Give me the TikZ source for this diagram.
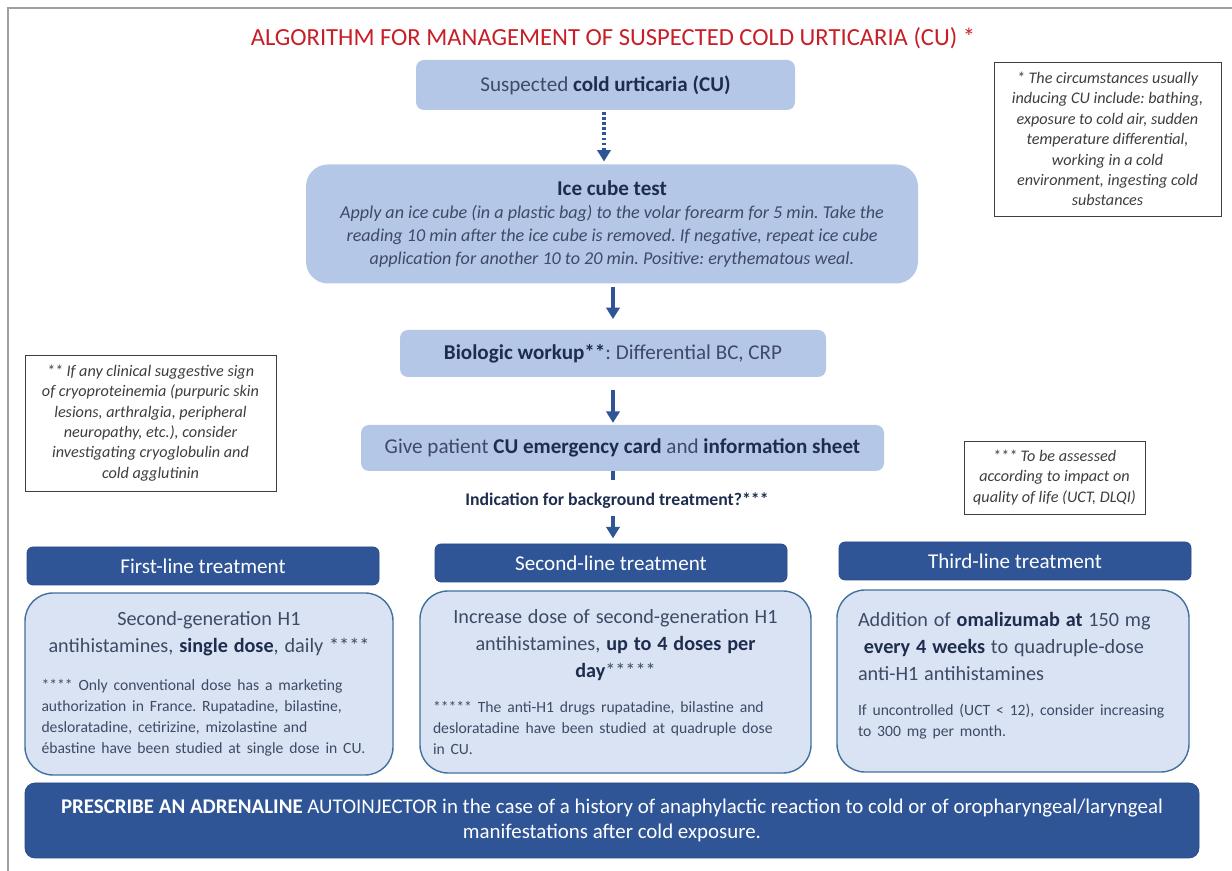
\documentclass[tikz,border=0pt]{standalone}
\usepackage{fontspec}
\setmainfont{Carlito}
\usetikzlibrary{positioning,arrows.meta}

\definecolor{titlered}{RGB}{200,30,40}
\definecolor{lightbox}{RGB}{180,199,231}
\definecolor{palebox}{RGB}{218,227,243}
\definecolor{paleedge}{RGB}{65,113,156}
\definecolor{darkbox}{RGB}{47,85,151}
\definecolor{darkedge}{RGB}{40,74,135}
\definecolor{txt}{RGB}{62,74,102}
\definecolor{txtb}{RGB}{30,44,78}
\definecolor{notetxt}{RGB}{62,62,62}

\newcommand{\bfnavy}[1]{\textbf{\color{txtb}#1}}
\newcommand{\bigtxt}{\fontsize{11.5}{15.3}\selectfont}
\newcommand{\smalltxt}{\fontsize{8.9}{11.9}\selectfont}
\frenchspacing

\begin{document}
\begin{tikzpicture}[
  x=1cm, y=1cm,
  frame/.style={draw=gray!75, line width=1pt},
  lightstep/.style={fill=lightbox, rounded corners=0.16cm, text=txt, align=center, inner sep=2pt, font=\fontsize{12}{14}\selectfont},
  note/.style={draw=notetxt, line width=0.5pt, fill=white, text=notetxt, align=center, inner sep=2pt, font=\fontsize{9.2}{11.6}\selectfont\itshape},
  header/.style={draw=darkedge, fill=darkbox, rounded corners=0.12cm, text=white, minimum width=7.04cm, minimum height=0.76cm, inner sep=1pt, font=\fontsize{12}{13}\selectfont},
  content/.style={draw=paleedge, line width=0.8pt, fill=palebox, rounded corners=0.56cm, text=txt, minimum height=3.64cm, align=left, inner sep=0pt},
  arrow/.style={-{Triangle[width=7.5pt,length=6.5pt]}, draw=darkbox, line width=2.2pt},
  link/.style={draw=darkbox, line width=2.2pt}
]
\useasboundingbox (0,0) rectangle (24.64,-17.42);

% page frame
\draw[frame] (24.64,-0.16) -- (0.16,-0.16) -- (0.16,-17.42);

% Title
\node[text=titlered, font=\fontsize{14}{16}\selectfont] (title) at (12.26,-0.76) {ALGORITHM FOR MANAGEMENT OF SUSPECTED COLD URTICARIA (CU) *};

% Main column
\node[lightstep, minimum width=7.58cm, minimum height=1.0cm] (suspect) at (12.11,-1.70) {Suspected \bfnavy{cold urticaria (CU)}};
\node[lightstep, rounded corners=0.44cm, minimum width=12.24cm, minimum height=2.38cm, font=\fontsize{10.3}{13}\selectfont] (icetest) at (12.24,-4.48)
  {{\fontsize{12}{13}\selectfont\bfnavy{Ice cube test}}\\[0pt]
   \itshape Apply an ice cube (in a plastic bag) to the volar forearm for 5 min. Take the\\
   \itshape reading 10 min after the ice cube is removed. If negative, repeat ice cube\\
   \itshape application for another 10 to 20 min. Positive: erythematous weal.};
\node[lightstep, minimum width=8.52cm, minimum height=0.94cm] (workup) at (12.26,-7.07) {\bfnavy{Biologic workup**}: Differential BC, CRP};
\node[lightstep, minimum width=10.46cm, minimum height=0.92cm] (card) at (12.45,-8.96) {Give patient \bfnavy{CU emergency card} and \bfnavy{information sheet}};
\node[text=txtb, font=\fontsize{10.1}{11}\selectfont\bfseries, inner sep=1pt] (question) at (12.34,-10.02) {Indication for background treatment?***};

% Footnote boxes
\node[note, minimum width=4.54cm, minimum height=3.08cm] (noteA) at (22.15,-2.78)
  {* The circumstances usually\\inducing CU include: bathing,\\exposure to cold air, sudden\\temperature differential,\\working in a cold\\environment, ingesting cold\\substances};
\node[note, minimum width=5.02cm, minimum height=2.72cm] (noteB) at (3.01,-8.46)
  {** If any clinical suggestive sign\\of cryoproteinemia (purpuric skin\\lesions, arthralgia, peripheral\\neuropathy, etc.), consider\\investigating cryoglobulin and\\cold agglutinin};
\node[note, minimum width=3.62cm, minimum height=1.46cm] (noteC) at (21.09,-9.55)
  {*** To be assessed\\according to impact on\\quality of life (UCT, DLQI)};

% Treatment lines
\node[header] (first) at (4.06,-11.32) {First-line treatment};
\node[header] (second) at (12.22,-11.26) {Second-line treatment};
\node[header] (third) at (20.30,-11.22) {Third-line treatment};

\node[content, minimum width=7.36cm, text width=6.9cm] (firstbox) at (4.18,-13.68)
  {{\centering\bigtxt Second-generation H1\\antihistamines, \bfnavy{single dose}, daily ****\par}
   \vspace{10pt}
   {\raggedright\smalltxt\hspace*{0.1cm}**** Only conventional dose has a marketing\\\hspace*{0.1cm}authorization in France. Rupatadine, bilastine,\\\hspace*{0.1cm}desloratadine, cetirizine, mizolastine and\\\hspace*{0.1cm}ébastine have been studied at single dose in CU.\par}};
\node[content, minimum width=7.82cm, text width=7.3cm] (secondbox) at (12.31,-13.64)
  {{\centering\bigtxt Increase dose of second-generation H1\\antihistamines, \bfnavy{up to 4 doses per}\\\bfnavy{day}*****\par}
   \vspace{8pt}
   {\raggedright\smalltxt ***** The anti-H1 drugs rupatadine, bilastine and\\desloratadine have been studied at quadruple dose\\in CU.\par}};
\node[content, minimum width=7.04cm, text width=6.2cm] (thirdbox) at (20.26,-13.62)
  {{\raggedright\bigtxt Addition of \bfnavy{omalizumab at} 150 mg\\\ \bfnavy{every 4 weeks} to quadruple-dose\\anti-H1 antihistamines\par}
   \vspace{8pt}
   {\raggedright\smalltxt If uncontrolled (UCT < 12), consider increasing\\to 300 mg per month.\par}\vspace{6pt}};

% Bottom banner
\node[draw=darkedge, fill=darkbox, rounded corners=0.2cm, text=white, minimum width=23.48cm, minimum height=1.5cm, align=center, font=\fontsize{11.9}{14}\selectfont] (adrenaline) at (12.24,-16.41)
  {\textbf{PRESCRIBE AN ADRENALINE} AUTOINJECTOR in the case of a history of anaphylactic reaction to cold or of oropharyngeal/laryngeal\\manifestations after cold exposure.};

% Connectors
\draw[arrow, dash pattern=on 1.6pt off 1.3pt, shorten <=1pt, shorten >=1.5pt] (suspect.south -| 12.08,0) -- (icetest.north -| 12.08,0);
\draw[arrow, shorten <=2pt, shorten >=6pt] (workup.north |- icetest.south) -- (workup.north);
\draw[arrow, shorten <=7pt, shorten >=1pt] (workup.south) -- (workup.south |- card.north);
\draw[link, shorten >=6pt] (workup.south |- card.south) -- (workup.south |- question.north);
\draw[arrow, shorten <=3pt, shorten >=3pt] (workup.south |- question.south) -- (workup.south |- second.north);

\end{tikzpicture}
\end{document}
